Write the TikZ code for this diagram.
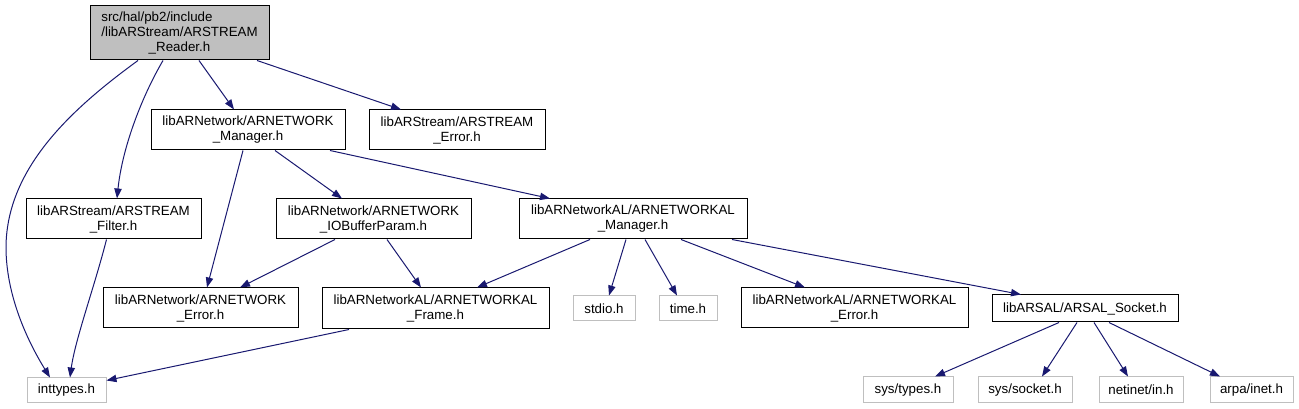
\documentclass[tikz,border=0pt]{standalone}
\usepackage{fontspec}
\setmainfont{Liberation Sans}
\usetikzlibrary{arrows.meta,calc}
\definecolor{edgeblue}{HTML}{191970}
\definecolor{rootgray}{HTML}{BFBFBF}
\definecolor{sysgray}{HTML}{BFBFBF}
\tikzset{
  box/.style={draw=black, line width=0.75pt, inner sep=0pt, align=center,
    font=\fontsize{10}{11.25}\selectfont},
  sysbox/.style={box, draw=sysgray},
  wh/.style 2 args={minimum width=#1*0.75pt, minimum height=#2*0.75pt},
  edge/.style={draw=edgeblue, line width=0.75pt,
    -{Triangle[length=7.5pt,width=5.5pt,fill=edgeblue]}}
}
\begin{document}
\begin{tikzpicture}[x=0.75pt,y=-0.75pt]
\useasboundingbox (0,0) rectangle (1299,409);
% nodes
\node[box, fill=rootgray, wh={179}{54}] (root) at (179.5,33)
  {\rlap{src/hal/pb2/include}\phantom{/libARStream/ARSTREAM}\\/libARStream/ARSTREAM\\\_Reader.h};
\node[box, wh={194}{40}] (nm) at (248,130) {libARNetwork/ARNETWORK\\\_Manager.h};
\node[box, wh={176}{40}] (se) at (457,130) {libARStream/ARSTREAM\\\_Error.h};
\node[box, wh={175}{40}] (sf) at (113.5,219) {libARStream/ARSTREAM\\\_Filter.h};
\node[box, wh={195}{40}] (iob) at (373.5,219) {libARNetwork/ARNETWORK\\\_IOBufferParam.h};
\node[box, wh={228}{40}] (alm) at (633,219) {libARNetworkAL/ARNETWORKAL\\\_Manager.h};
\node[box, wh={195}{40}] (ne) at (200.5,308) {libARNetwork/ARNETWORK\\\_Error.h};
\node[box, wh={227}{41}] (alf) at (435.5,308.5) {libARNetworkAL/ARNETWORKAL\\\_Frame.h};
\node[sysbox, wh={62}{25}] (stdio) at (604,308.5) {stdio.h};
\node[sysbox, wh={58}{25}] (time) at (688,308.5) {time.h};
\node[box, wh={227}{40}] (ale) at (854.5,308) {libARNetworkAL/ARNETWORKAL\\\_Error.h};
\node[box, wh={186}{27}] (sock) at (1085,308.5) {libARSAL/ARSAL\_Socket.h};
\node[sysbox, wh={79}{25}] (int) at (66.5,390.5) {inttypes.h};
\node[sysbox, wh={90}{26}] (stypes) at (908,390) {sys/types.h};
\node[sysbox, wh={94}{26}] (ssock) at (1025,390) {sys/socket.h};
\node[sysbox, wh={84}{26}] (netin) at (1141,390) {netinet/in.h};
\node[sysbox, wh={83}{26}] (arpa) at (1251.5,390) {arpa/inet.h};
% edges
\draw[edge] ($(root.south)+(-41.5,0)$) .. controls (70,110) and (5,170) .. (6,250)
  .. controls (7,300) and (30,345) .. ($(int.north)+(-16.5,0)$);
\draw[edge] ($(root.south)+(-16.5,0)$) .. controls (140,100) and (122,150) .. ($(sf.north)+(3.5,0)$);
\draw[edge] ($(root.south)+(19.5,0)$) -- ($(nm.north)+(-14,0)$);
\draw[edge] ($(root.south)+(77.5,0)$) -- ($(se.north)+(-56,0)$);
\draw[edge] ($(nm.south)+(-5,0)$) -- ($(ne.north)+(6.5,0)$);
\draw[edge] ($(nm.south)+(27,0)$) -- ($(iob.north)+(-31.5,0)$);
\draw[edge] ($(nm.south)+(82,0)$) -- ($(alm.north)+(-83,0)$);
\draw[edge] ($(sf.south)+(-7,0)$) .. controls (95,285) and (75,340) .. ($(int.north)+(3.5,0)$);
\draw[edge] ($(iob.south)+(-38.5,0)$) -- ($(ne.north)+(39.5,0)$);
\draw[edge] ($(iob.south)+(13.5,0)$) -- ($(alf.north)+(-14.5,0)$);
\draw[edge] ($(alm.south)+(-43,0)$) -- ($(alf.north)+(41.5,0)$);
\draw[edge] ($(alm.south)+(-7,0)$) -- ($(stdio.north)+(5,0)$);
\draw[edge] ($(alm.south)+(12,0)$) -- ($(time.north)+(-11,0)$);
\draw[edge] ($(alm.south)+(48,0)$) -- ($(ale.north)+(-49.5,0)$);
\draw[edge] ($(alm.south)+(99,0)$) -- ($(sock.north)+(-64,0)$);
\draw[edge] ($(alf.south)+(-86.5,0)$) -- ($(int.north east)+(0,3)$);
\draw[edge] ($(sock.south)+(-26,0)$) -- ($(stypes.north)+(27,0)$);
\draw[edge] ($(sock.south)+(-8,0)$) -- ($(ssock.north)+(17,0)$);
\draw[edge] ($(sock.south)+(9,0)$) -- ($(netin.north)+(-13,0)$);
\draw[edge] ($(sock.south)+(24,0)$) -- ($(arpa.north)+(-31.5,0)$);
\end{tikzpicture}
\end{document}
